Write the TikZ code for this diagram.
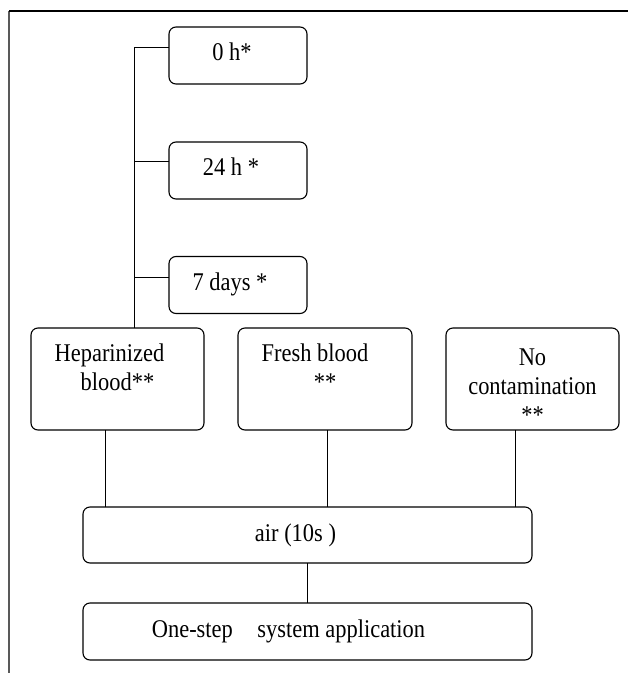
\documentclass[tikz,border=0pt]{standalone}
\usepackage{fontspec}
\setmainfont{Liberation Serif}[FakeStretch=0.88]
\usetikzlibrary{positioning, calc}
\newcommand{\tallrow}{\rule{0pt}{31pt}}
\newcommand{\padright}[1]{\hspace*{#1pt}}

\begin{document}
\begin{tikzpicture}[x=1pt, y=-1pt,
    stage/.style={draw, line width=1.1pt, rounded corners=7pt, inner sep=0pt, outer sep=0pt,
        align=center, font=\fontsize{25.5}{29}\selectfont},
    timebox/.style={stage, minimum width=138pt, minimum height=57pt, text depth=7pt},
    samplebox/.style={stage, minimum width=173pt, minimum height=102pt},
    widebox/.style={stage, minimum width=449pt, minimum height=56pt},
    link/.style={line width=0.9pt}]
    \useasboundingbox (0,0) rectangle (628,673);
    % frame
    \draw[gray!70!black, line width=1.5pt] (9,673) -- (9,11);
    \draw[line width=1.2pt] (9,11) -- (628,11);
    % time points
    \node[timebox] (t0) at (238,55.5) {0 h*\padright{12}};
    \node[timebox] (t24) at (238,170.5) {24 h *\padright{14}};
    \node[timebox] (t7) at (238,285) {7 days *\padright{16}};
    % samples
    \node[samplebox] (hep) at (117.5,379) {\tallrow Heparinized\padright{16}\\blood**\padright{12}\\\strut};
    \node[samplebox, minimum width=174pt] (fresh) at (325,379) {\tallrow Fresh blood\padright{20}\\**\\\strut};
    \node[samplebox] (noc) at (532.5,379) {\tallrow No\\contamination\\**};
    % steps
    \node[widebox] (air) at (307.5,535) {air (10s )\padright{24}};
    \node[widebox, minimum height=57pt] (one) at (307.5,631.5) {One-step\hspace{19pt} system application\padright{38}};
    % trunk on the left
    \coordinate (trunk) at (134,47);
    \draw[link] (hep.north -| trunk) -- (trunk) -- ([yshift=8.5pt]t0.west);
    \draw[link] ([yshift=9.5pt]t24.west) -| (trunk);
    \draw[link] ([yshift=8pt]t7.west) -| (trunk);
    % samples down to air
    \coordinate (hepout) at ($(hep.south)+(-12.5,0)$);
    \coordinate (freshout) at ($(fresh.south)+(2,0)$);
    \coordinate (nocout) at ($(noc.south)+(-17.5,0)$);
    \draw[link] (hepout) -- (hepout |- air.north);
    \draw[link] (freshout) -- (freshout |- air.north);
    \draw[link] (nocout) -- (nocout |- air.north);
    \draw[link] (air) -- (one);
\end{tikzpicture}
\end{document}
